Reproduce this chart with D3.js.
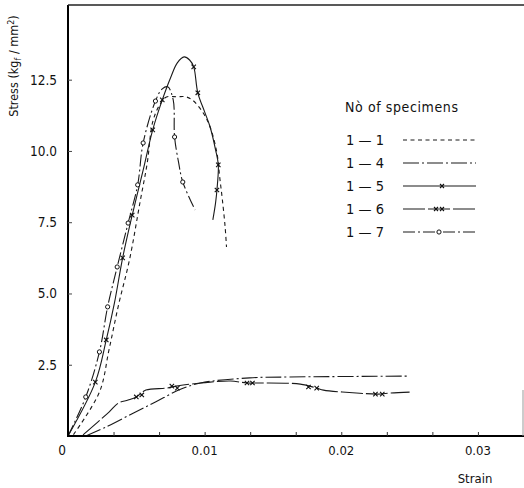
<!DOCTYPE html>
<html><head><meta charset="utf-8">
<script src="https://cdn.jsdelivr.net/npm/d3@7"></script>
<style>
html,body{margin:0;padding:0;background:#fff;}
text{font-family:"DejaVu Sans Condensed","DejaVu Sans",sans-serif;fill:#111;}
</style></head>
<body>
<svg id="c" width="524" height="488"></svg>
<script>
// ---- data ----
const specimens = ["1 \u2014 1", "1 \u2014 4", "1 \u2014 5", "1 \u2014 6", "1 \u2014 7"];
const xTicks = [0.01, 0.02, 0.03];
const xTickLabels = ["0.01", "0.02", "0.03"];
const yTicks = [2.5, 5.0, 7.5, 10.0, 12.5];
const yTickLabels = ["2.5", "5.0", "7.5", "10.0", "12.5"];

const s11_x = [0.0004, 0.0023, 0.0030, 0.0037, 0.0045, 0.0053, 0.0058, 0.0062, 0.0067, 0.0072, 0.0080, 0.0086, 0.0091, 0.0099, 0.0104, 0.0109, 0.0111, 0.0113, 0.0115, 0.0116];
const s11_y = [0.05, 1.54, 3.02, 4.60, 6.18, 8.28, 9.58, 11.02, 11.61, 11.89, 11.90, 11.90, 11.79, 11.33, 10.84, 9.93, 9.09, 8.28, 7.33, 6.63];

const s14_x = [0.0013, 0.0028, 0.0048, 0.0064, 0.0081, 0.0097, 0.0133, 0.0162, 0.0249];
const s14_y = [0.0, 0.32, 0.81, 1.19, 1.61, 1.86, 2.04, 2.07, 2.10];

const s15_x = [0, 0.0020, 0.0028, 0.0034, 0.0040, 0.0047, 0.0055, 0.0062, 0.0069, 0.0075, 0.0080, 0.0085, 0.0089, 0.0092, 0.0095, 0.0100, 0.0104, 0.0108, 0.0110, 0.0109, 0.0108, 0.0106];
const s15_y = [0, 1.89, 3.37, 4.67, 6.25, 7.75, 9.33, 10.74, 11.79, 12.56, 13.09, 13.30, 13.19, 12.95, 12.04, 11.37, 10.84, 10.04, 9.51, 8.63, 8.18, 7.58];

const s16_x = [0.0011, 0.0030, 0.0037, 0.0044, 0.0050, 0.0057, 0.0072, 0.0079, 0.0097, 0.0104, 0.0119, 0.0131, 0.0141, 0.0170, 0.0182, 0.0187, 0.0211, 0.0227, 0.0236, 0.0250];
const s16_y = [0.04, 0.84, 1.16, 1.26, 1.37, 1.61, 1.68, 1.75, 1.86, 1.89, 1.93, 1.86, 1.86, 1.82, 1.68, 1.61, 1.51, 1.47, 1.51, 1.54];

const s17_x = [0, 0.0013, 0.0023, 0.0029, 0.0036, 0.0044, 0.0051, 0.0055, 0.0064, 0.0069, 0.0073, 0.0077, 0.0078, 0.0081, 0.0084, 0.0093];
const s17_y = [0, 1.37, 2.95, 4.53, 5.93, 7.47, 8.81, 10.28, 11.75, 12.18, 12.25, 11.79, 10.49, 9.58, 8.91, 7.93];

// markers
const m15_x = [0.0020, 0.0028, 0.0040, 0.0047, 0.0062, 0.0069, 0.0092, 0.0095, 0.0110, 0.0109];
const m15_y = [1.89, 3.37, 6.25, 7.75, 10.74, 11.79, 12.95, 12.04, 9.51, 8.63];
const m16_x = [0.0050, 0.0054, 0.0076, 0.0080, 0.0131, 0.0135, 0.0176, 0.0182, 0.0225, 0.0230];
const m16_y = [1.37, 1.44, 1.75, 1.68, 1.86, 1.86, 1.72, 1.68, 1.47, 1.47];
const m17_x = [0.0013, 0.0023, 0.0029, 0.0036, 0.0044, 0.0051, 0.0055, 0.0064, 0.0078, 0.0084];
const m17_y = [1.37, 2.95, 4.53, 5.93, 7.47, 8.81, 10.28, 11.75, 10.49, 8.91];

// ---- chart ----
const svg = d3.select("#c");
const L = 68, R = 523, T = 5, B = 436;
const x = d3.scaleLinear().domain([0, 0.0333]).range([L, R]);
const y = d3.scaleLinear().domain([0, 15.12]).range([B, T]);

const styles = [
  {dash: "4,3.5", marker: null},
  {dash: "16,3,2,3", marker: null},
  {dash: null, marker: "x"},
  {dash: "22,3", marker: "xx"},
  {dash: "12,3,2,3", marker: "o"}
];
const seriesX = [s11_x, s14_x, s15_x, s16_x, s17_x];
const seriesY = [s11_y, s14_y, s15_y, s16_y, s17_y];

const line = d3.line().x(d => x(d[0])).y(d => y(d[1])).curve(d3.curveCatmullRom.alpha(0.5));

const g = svg.append("g");
seriesX.forEach((xs, i) => {
  const pts = xs.map((v, j) => [v, seriesY[i][j]]);
  g.append("path").attr("d", line(pts)).attr("fill", "none")
    .attr("stroke", "#1a1a1a").attr("stroke-width", 1.1)
    .attr("stroke-dasharray", styles[i].dash);
});

function drawX(sel, cx, cy, s) {
  sel.append("path").attr("d", `M${cx-s},${cy-s}L${cx+s},${cy+s}M${cx+s},${cy-s}L${cx-s},${cy+s}`)
    .attr("stroke", "#111").attr("stroke-width", 1.1).attr("fill", "none");
}
function drawO(sel, cx, cy) {
  sel.append("circle").attr("cx", cx).attr("cy", cy).attr("r", 2.1)
    .attr("fill", "#fff").attr("stroke", "#111").attr("stroke-width", 1);
}
m15_x.forEach((v, j) => drawX(g, x(v), y(m15_y[j]), 2.2));
m16_x.forEach((v, j) => drawX(g, x(v), y(m16_y[j]), 2.2));
m17_x.forEach((v, j) => drawO(g, x(v), y(m17_y[j])));

// frame
svg.append("line").attr("x1", L).attr("x2", L).attr("y1", T).attr("y2", B+1).attr("stroke", "#000").attr("stroke-width", 2);
svg.append("line").attr("x1", L-1).attr("x2", R+1).attr("y1", B).attr("y2", B).attr("stroke", "#000").attr("stroke-width", 2);
svg.append("line").attr("x1", L).attr("x2", R+1).attr("y1", T).attr("y2", T).attr("stroke", "#222").attr("stroke-width", 1.6);
svg.append("line").attr("x1", R).attr("x2", R).attr("y1", 390).attr("y2", B).attr("stroke", "#999").attr("stroke-width", 1);

// axes via d3 axis (inward ticks)
const xAxis = d3.axisBottom(x).tickValues(d3.range(1, 10).map(k => k * 0.01 / 3)).tickSize(-4).tickFormat("");
const xg = svg.append("g").attr("transform", `translate(0,${B})`).call(xAxis);
xg.select(".domain").remove();
xg.selectAll("line").attr("stroke", "#333");

const yAxis = d3.axisLeft(y).tickValues(yTicks).tickSize(-4).tickFormat("");
const yg = svg.append("g").attr("transform", `translate(${L},0)`).call(yAxis);
yg.select(".domain").remove();
yg.selectAll("line").attr("stroke", "#444");

// tick labels
xTicks.forEach((v, i) => {
  svg.append("text").attr("x", x(v)).attr("y", 455).attr("text-anchor", "middle")
    .attr("font-size", 13).text(xTickLabels[i]);
});
yTicks.forEach((v, i) => {
  svg.append("text").attr("x", 57).attr("y", y(v) + 5).attr("text-anchor", "end")
    .attr("font-size", 13.5).text(yTickLabels[i]);
});
svg.append("text").attr("x", 62).attr("y", 455).attr("text-anchor", "middle").attr("font-size", 13.5).text("0");

// axis titles
svg.append("text").attr("x", 475).attr("y", 483).attr("text-anchor", "middle").attr("font-size", 13).text("Strain");
const yt = svg.append("text").attr("transform", "translate(18,66) rotate(-90)").attr("text-anchor", "middle").attr("font-size", 12.5);
yt.append("tspan").text("Stress (kg");
yt.append("tspan").attr("font-size", 9).attr("dy", 3).text("f");
yt.append("tspan").attr("dy", -3).text(" / mm");
yt.append("tspan").attr("font-size", 9).attr("dy", -4).text("2");
yt.append("tspan").attr("dy", 4).text(")");

// legend
svg.append("text").attr("x", 345).attr("y", 112).attr("font-size", 14).attr("letter-spacing", 0.6).text("N\u00f2 of  specimens");
const legY = [140, 163, 186, 209, 232];
specimens.forEach((s, i) => {
  svg.append("text").attr("x", 346).attr("y", legY[i] + 5).attr("font-size", 14.5).text(s);
  svg.append("line").attr("x1", 403).attr("x2", 476).attr("y1", legY[i]).attr("y2", legY[i])
    .attr("stroke", "#1a1a1a").attr("stroke-width", 1.1).attr("stroke-dasharray", styles[i].dash);
  if (styles[i].marker === "x") drawX(svg, 442, legY[i], 2);
  if (styles[i].marker === "xx") { drawX(svg, 436, legY[i], 2); drawX(svg, 442, legY[i], 2); }
  if (styles[i].marker === "o") drawO(svg, 439, legY[i]);
});
</script>
</body></html>
